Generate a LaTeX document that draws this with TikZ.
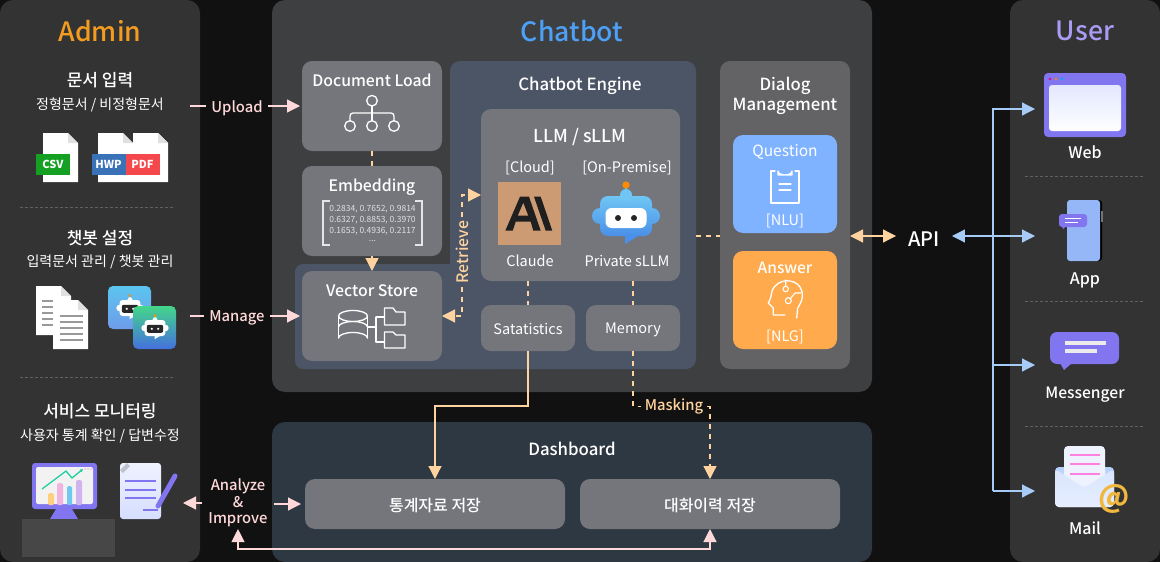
\documentclass[tikz,border=0pt]{standalone}
\usepackage{fontspec}
\setmainfont{Noto Sans CJK KR}
\newfontfamily\medfont{Noto Sans CJK KR Medium}
\newfontfamily\thinfont{Noto Sans CJK KR}
\usetikzlibrary{arrows.meta}

\definecolor{bgblack}{HTML}{111111}
\definecolor{sidegray}{HTML}{333333}
\definecolor{chatgray}{HTML}{3E3F41}
\definecolor{dashblue}{HTML}{2E3842}
\definecolor{engineblue}{HTML}{4C5566}
\definecolor{boxgray}{HTML}{74767C}
\definecolor{dialoggray}{HTML}{636365}
\definecolor{peach}{HTML}{FFD39F}
\definecolor{pinkline}{HTML}{FFD9D9}
\definecolor{blueline}{HTML}{A6CBF7}
\definecolor{purple}{HTML}{8276F0}
\definecolor{admintxt}{HTML}{F39C1F}
\definecolor{chattxtblue}{HTML}{4DA0F5}
\definecolor{usertxt}{HTML}{AA9CF5}
\definecolor{csvgreen}{HTML}{15A024}
\definecolor{hwpblue}{HTML}{3A72B8}
\definecolor{pdfred}{HTML}{F5484D}
\definecolor{nlublue}{HTML}{80B3FF}
\definecolor{nlgorange}{HTML}{FFAB4D}
\definecolor{clay}{HTML}{CC9B73}
\definecolor{goldat}{HTML}{F0B840}
\definecolor{bottop}{HTML}{6FC6F4}
\definecolor{botbottom}{HTML}{4A90E8}
\definecolor{tileatop}{HTML}{5BC5EF}
\definecolor{tileabot}{HTML}{6F9BEA}
\definecolor{tilebtop}{HTML}{44D68A}
\definecolor{tilebbot}{HTML}{4470DE}
\definecolor{barorange}{HTML}{FFCF80}
\definecolor{barpink}{HTML}{F0B4E0}
\definecolor{barblue}{HTML}{70C8F0}
\definecolor{barviolet}{HTML}{D0B4F0}
\definecolor{trendgreen}{HTML}{20D0A0}
\definecolor{papertop}{HTML}{EEF2FF}
\definecolor{paperbot}{HTML}{D6DEFF}
\definecolor{envback}{HTML}{B7D0FB}
\definecolor{envfront}{HTML}{E6EEFF}
\definecolor{mailpink}{HTML}{FF80E0}

\tikzset{
	panel/.style = {fill=#1, rounded corners=13pt, inner sep=0pt, outer sep=0pt},
	box/.style = {fill=#1, rounded corners=10pt, inner sep=0pt, outer sep=0pt},
	lbl/.style = {text=white, inner sep=0pt, yshift=-0.8pt, font=\medfont\fontsize{#1}{#1}\selectfont},
	thinlbl/.style = {text=white, inner sep=0pt, font=\thinfont\fontsize{#1}{#1}\selectfont},
	head/.style = {inner sep=0pt, yshift=-0.8pt, font=\medfont\fontsize{26.6}{27}\selectfont},
	filetag/.style = {fill=#1, minimum width=34pt, minimum height=21pt, inner sep=0pt, text=white, font=\bfseries\fontsize{11}{11}\selectfont},
	tip/.style = {-{Triangle[length=13pt,width=13pt]}},
	twotip/.style = {{Triangle[length=13pt,width=13pt]}-{Triangle[length=13pt,width=13pt]}},
	pinkarrow/.style = {draw=pinkline, line width=1.2pt},
	peachline/.style = {draw=peach, line width=1.2pt},
	peachdash/.style = {draw=peach, line width=1.2pt, dash pattern=on 5pt off 5pt},
	bluearrow/.style = {draw=blueline, line width=1.2pt},
	sep/.style = {draw=white!22!sidegray, line width=0.5pt, dash pattern=on 3pt off 2pt},
	icon/.style = {draw=white, line width=1.3pt, line join=round, line cap=round},
	filepage/.pic = {
		\fill[white] (0,0) -- (25,0) -- (35,10) -- (35,49) -- (0,49) -- cycle;
		\fill[black!12] (25,0) -- (35,10) -- (25,10) -- cycle;
	},
	pics/botblob/.style n args = {7}{code = {
		\draw[cyan!60!white, line width=#7pt] (0,-31) -- (0,-20);
		\shade[top color=#1, bottom color=#2, rounded corners=#5pt] (-26,-20) rectangle (26,20) (-34,-8) rectangle (34,8);
		\fill[#2] (-1,17) -- (-1,28) -- (14,19) -- cycle;
		\fill[#1] (0,-21) circle[radius=6];
		\fill[orange!90!yellow] (0,-31) circle[radius=3.6];
		\fill[#3, rounded corners=#6pt] (-20.5,-8) rectangle (20.5,12);
		\fill[#4] (-8,2) circle[radius=3] (8,2) circle[radius=3];
	}},
}

\begin{document}
\begin{tikzpicture}[x=1pt, y=-1pt]
	\useasboundingbox (0,0) rectangle (1160,562);
	\fill[bgblack] (0,0) rectangle (1160,562);
	% panels
	\node[panel=sidegray, minimum width=200pt, minimum height=562pt] (admin) at (100,281) {};
	\node[panel=sidegray, minimum width=150pt, minimum height=562pt] (user) at (1085,281) {};
	\node[panel=chatgray, minimum width=600pt, minimum height=392pt] (chatbot) at (572,196) {};
	\node[panel=dashblue, minimum width=600pt, minimum height=140pt] (dashboard) at (572,492) {};
	\fill[engineblue, rounded corners=8pt] (295,264) rectangle (500,369);
	\node[box=engineblue, minimum width=246pt, minimum height=308pt] (engine) at (573,215) {};
	\node[box=dialoggray, minimum width=130pt, minimum height=308pt] (dialog) at (785,215) {};
	% titles
	\node[head, text=admintxt] (admintitle) at (100,30) {Admin};
	\node[head, text=chattxtblue] (chattitle) at (572,30) {Chatbot};
	\node[head, text=usertxt] (usertitle) at (1085,30) {User};
	% admin side
	\node[lbl=17] (t1) at (100,79) {문서 입력};
	\node[thinlbl=14] (t2) at (100,104.5) {정형문서 / 비정형문서};
	\node[lbl=17] (t3) at (100,237) {챗봇 설정};
	\node[thinlbl=14] (t4) at (100,262) {입력문서 관리 / 챗봇 관리};
	\node[lbl=17] (t5) at (100,410.5) {서비스 모니터링};
	\node[thinlbl=14] (t6) at (100,435.5) {사용자 통계 확인 / 답변수정};
	\draw[sep] (20,207) -- (175,207);
	\draw[sep] (20,377) -- (175,377);
	\pic at (43,133) {filepage};
	\pic at (98,133) {filepage};
	\pic at (133,133) {filepage};
	\node[filetag=csvgreen] (csv) at (53,164.5) {CSV};
	\node[filetag=hwpblue] (hwp) at (108.5,164.5) {HWP};
	\node[filetag=pdfred] (pdf) at (142.5,164.5) {PDF};
	\pic at (36,286) {filepage};
	\foreach \y in {301,307,313,319,325} \draw[black!40, line width=1.6pt] (42,\y) -- (60,\y);
	\pic at (53,300) {filepage};
	\foreach \y in {316,322,328,334,340} \draw[black!40, line width=1.8pt] (60,\y) -- (83,\y);
	\shade[top color=tileatop, bottom color=tileabot, rounded corners=5pt] (108,286) rectangle (151,329);
	\pic[scale=0.4] at (130,308) {botblob={white}{white}{black!85}{white}{3}{2}{0.8}};
	\shade[top color=tilebtop, bottom color=tilebbot, rounded corners=5pt] (133,306) rectangle (176,349);
	\pic[scale=0.4] at (155,328) {botblob={white}{white}{black!85}{white}{3}{2}{0.8}};
	% monitor
	\fill[purple, rounded corners=3pt] (32,463) rectangle (97,509);
	\fill[black!5, rounded corners=2pt] (36,467) rectangle (93,504);
	\fill[purple] (56,509) -- (72,509) -- (78,519) -- (50,519) -- cycle;
	\fill[barorange, rounded corners=1.5pt] (48,493) rectangle (54,505);
	\fill[barpink, rounded corners=1.5pt] (57,483) rectangle (63,505);
	\fill[barblue, rounded corners=1.5pt] (67,486) rectangle (72,505);
	\fill[barviolet, rounded corners=1.5pt] (76,480) rectangle (82,505);
	\draw[trendgreen, line width=1.3pt, -{Triangle[length=3pt,width=3pt]}] (42,489) -- (66,471) -- (72,478) -- (83,469);
	\fill[barpink] (85,469) circle[radius=0.8] (88,469) circle[radius=0.8] (91,469) circle[radius=0.8];
	\fill[sidegray!90!white] (22,519) rectangle (115,557);
	% edit
	\shade[top color=papertop, bottom color=paperbot, rounded corners=3pt] (120,463) rectangle (161,519);
	\fill[papertop!80!black] (120,470) -- (127,463) -- (130,466) -- (123,473) -- cycle;
	\foreach \y in {481,490,498} \draw[purple, line width=2.6pt] (125,\y) -- (156,\y);
	\draw[purple, line width=2.2pt] (143,510) -- (158,510);
	\draw[purple, line width=5pt, line cap=round] (175,476) -- (158,506);
	% user side
	\draw[sep] (1025,176) -- (1143,176);
	\draw[sep] (1025,301) -- (1143,301);
	\draw[sep] (1025,426) -- (1143,426);
	\fill[purple, rounded corners=4pt] (1044,73) rectangle (1126,137);
	\shade[top color=paperbot!70!white, bottom color=white, rounded corners=3pt] (1049,85) rectangle (1121,131);
	\fill[magenta] (1050,79) circle[radius=1.4];
	\fill[orange] (1056,79) circle[radius=1.4];
	\fill[cyan] (1062,79) circle[radius=1.4];
	\node[lbl=16] (webtxt) at (1085,151.5) {Web};
	\fill[black, rounded corners=3pt] (1070,200) rectangle (1102,261);
	\fill[black!55] (1101,211) rectangle (1102.5,222);
	\fill[blueline!90!blue, rounded corners=3pt] (1067,200) rectangle (1100,261);
	\fill[purple, rounded corners=3pt] (1059,214) rectangle (1087,227);
	\fill[purple] (1062,226) -- (1066,226) -- (1063,229) -- cycle;
	\draw[white, line width=0.8pt] (1065,218) -- (1081,218) (1065,222) -- (1078,222);
	\node[lbl=16] (apptxt) at (1085,280) {App};
	\fill[purple, rounded corners=7pt] (1050,332) rectangle (1119,364);
	\fill[purple] (1060,363) -- (1072,363) -- (1064,370) -- cycle;
	\fill[white!92!black] (1065,341) rectangle (1106,345);
	\fill[white!92!black] (1065,349) rectangle (1097,353);
	\node[lbl=15.6] (msgtxt) at (1085,394) {Messenger};
	\shade[top color=envback, bottom color=envfront, rounded corners=4pt] (1055,467) rectangle (1114,507);
	\fill[papertop, rounded corners=4pt] (1064,446) rectangle (1105,488);
	\foreach \y in {455,464,474} \draw[mailpink, line width=1.4pt] (1070,\y) -- (1100,\y);
	\shade[top color=envfront!70!envback, bottom color=envfront, rounded corners=4pt] (1055,469) -- (1084,488) -- (1114,469) -- (1114,507) -- (1055,507) -- cycle;
	\node[inner sep=0pt, text=goldat, font=\bfseries\fontsize{30}{30}\selectfont] (attxt) at (1114,499) {@};
	\node[lbl=16] (mailtxt) at (1085,527) {Mail};
	% chatbot boxes
	\node[box=boxgray, minimum width=140pt, minimum height=90pt] (docload) at (372,106) {};
	\node[box=boxgray, minimum width=140pt, minimum height=90pt] (embed) at (372,211) {};
	\node[box=boxgray, minimum width=140pt, minimum height=90pt] (vecstore) at (372,316) {};
	\node[box=boxgray, minimum width=199pt, minimum height=172pt] (llm) at (580.5,195) {};
	\node[box=boxgray, minimum width=94pt, minimum height=46pt] (stats) at (528,328) {};
	\node[box=boxgray, minimum width=94pt, minimum height=46pt] (memory) at (633,328) {};
	\node[box=nlublue, minimum width=104pt, minimum height=98pt] (question) at (785,184) {};
	\node[box=nlgorange, minimum width=104pt, minimum height=98pt] (answer) at (785,300) {};
	\node[box=boxgray, minimum width=260pt, minimum height=50pt] (statstore) at (435,504) {};
	\node[box=boxgray, minimum width=260pt, minimum height=50pt] (chatstore) at (710,504) {};
	\node[lbl=15.8] (doctxt) at (372,80) {Document Load};
	\node[lbl=15.8] (embtxt) at (372,186) {Embedding};
	\node[lbl=15.8] (vectxt) at (372,290) {Vector Store};
	\node[lbl=16.8] (enginetxt) at (580,85) {Chatbot Engine};
	\node[lbl=17.8] (llmtxt) at (580,136) {LLM / sLLM};
	\node[thinlbl=14.5] (cloudtxt) at (530,168) {[Cloud]};
	\node[thinlbl=14.5] (premtxt) at (627,168) {[On-Premise]};
	\node[thinlbl=14.5] (claudetxt) at (530,261) {Claude};
	\node[thinlbl=14.5] (privtxt) at (627,261) {Private sLLM};
	\node[thinlbl=14.5] (statstxt) at (528,328.5) {Satatistics};
	\node[thinlbl=14.5] (memtxt) at (633,330) {Memory};
	\node[lbl=16, align=center, font=\medfont\fontsize{16.7}{20}\selectfont] (dialogtxt) at (785,95) {Dialog\\Management};
	\node[thinlbl=15.5] (qtxt) at (785,152) {Question};
	\node[thinlbl=14.5] (nlutxt) at (785,221) {[NLU]};
	\node[lbl=15.5] (atxt) at (785,267) {Answer};
	\node[thinlbl=14.5] (nlgtxt) at (785,337) {[NLG]};
	\node[lbl=16.8] (dashtxt) at (572,448.5) {Dashboard};
	\node[lbl=16] (stattxt) at (435,505) {통계자료 저장};
	\node[lbl=16] (chattxt) at (710,505) {대화이력 저장};
	% document load icon
	\draw[icon] (372,100.7) circle[radius=5.3] (350,126) circle[radius=5.3] (372,126) circle[radius=5.3] (394,126) circle[radius=5.3];
	\draw[icon] (372,106) -- (372,120.7);
	\draw[icon, rounded corners=3pt] (350,120.7) -- (350,113) -- (394,113) -- (394,120.7);
	% embedding matrix
	\draw[white!90!black, line width=1.1pt] (330,201) -- (323,201) -- (323,245) -- (330,245);
	\draw[white!90!black, line width=1.1pt] (415,201) -- (422,201) -- (422,245) -- (415,245);
	\node[thinlbl=8.5, text=white!88!black] (row1) at (372.5,209) {0.2834, 0.7652, 0.9814};
	\node[thinlbl=8.5, text=white!88!black] (row2) at (372.5,220.5) {0.6327, 0.8853, 0.3970};
	\node[thinlbl=8.5, text=white!88!black] (row3) at (372.5,231.5) {0.1653, 0.4936, 0.2117};
	\node[thinlbl=8.5, text=white!88!black] (row4) at (372.5,241) {...};
	% vector store icon
	\draw[icon] (353,316) ellipse[x radius=14.5, y radius=5.5];
	\draw[icon] (338.5,316) -- (338.5,338) (367.5,316) -- (367.5,338);
	\draw[icon] (338.5,327) arc[start angle=180, end angle=360, x radius=14.5, y radius=5.5];
	\draw[icon] (338.5,338) arc[start angle=180, end angle=360, x radius=14.5, y radius=5.5];
	\draw[icon] (368,327) -- (376,327) (376,317) -- (376,342) (376,317) -- (384,317) (376,342) -- (384,342);
	\draw[icon] (384.5,308) -- (393,308) -- (396,312) -- (405,312) -- (405,325) -- (384.5,325) -- cycle;
	\draw[icon] (384.5,332) -- (393,332) -- (396,335) -- (405,335) -- (405,348) -- (384.5,348) -- cycle;
	% claude logo
	\node[fill=clay, minimum size=63pt, inner sep=0pt] (claudelogo) at (529.5,213.5) {};
	\fill[black!88, even odd rule] (520,196.7) -- (529,196.7) -- (540.7,230.7) -- (533.3,230.7) -- (530.7,221.7) -- (515.7,221.7) -- (512.7,230.7) -- (505.3,230.7) -- cycle
		(517.7,215.7) -- (528.3,215.7) -- (523.3,202.7) -- cycle;
	\fill[black!88] (534,196.7) -- (540.7,196.7) -- (552.3,230.7) -- (545.7,230.7) -- cycle;
	% big robot
	\pic at (626,216) {botblob={bottop}{botbottom}{white}{black!85}{8}{6}{1.6}};
	% question icon
	\draw[icon] (775,171) -- (771,171) -- (771,203) -- (799,203) -- (799,171) -- (795,171);
	\draw[icon] (778,175) -- (778,171) arc[start angle=180, end angle=0, x radius=7, y radius=4] -- (792,175) -- cycle;
	\draw[icon] (779,184) -- (791,184) (779,190) -- (791,190);
	% answer icon
	\draw[icon] (796.7,318) -- (797.7,308) .. controls (803,300) and (804,293) .. (800,287) .. controls (795,279) and (778,277) .. (772,291) .. controls (771,296) and (771,298) .. (768.3,303) -- (773.3,308) -- (773.3,315) -- (785,315);
	\draw[icon, line width=1.1pt] (785.7,289) circle[radius=2.7] (788.3,300.7) circle[radius=3];
	\draw[icon, line width=1.1pt] (785.7,280) -- (785.7,286.3) (790.5,298.5) -- (795,293) -- (801,293);
	% free ends
	\coordinate (uploadout) at (190,106);
	\coordinate (manageout) at (190,316);
	\coordinate (analyzeout) at (183,503);
	\coordinate (busup) at (993,109);
	\coordinate (busdown) at (993,491);
	\coordinate (webin) at (1035,109);
	\coordinate (appin) at (1035,236);
	\coordinate (msgin) at (1035,365);
	\coordinate (mailin) at (1035,491);
	\coordinate (reviewbus) at (238,549);
	\coordinate (statsbend) at (528,406);
	% labels on connectors
	\node[lbl=14.8, text=pinkline, inner xsep=5pt] (upload) at (237,107) {Upload};
	\node[lbl=14.8, text=pinkline, inner xsep=5pt] (manage) at (237,317.5) {Manage};
	\node[lbl=14.8, text=pinkline, align=center, font=\medfont\fontsize{14.8}{16.5}\selectfont, inner xsep=6pt, inner ysep=2pt] (analyze) at (238,502) {Analyze\\\&\\Improve};
	\node[thinlbl=16, text=peach, font=\medfont\fontsize{15.8}{16}\selectfont, rotate=90, inner xsep=3pt] (retrieve) at (462,252) {Retrieve};
	\node[lbl=14.8, text=peach, inner xsep=4pt] (masking) at (674,405.5) {Masking};
	\node[lbl=20, inner xsep=12pt] (api) at (924,238) {API};
	% connectors
	\draw[pinkarrow] (uploadout) -- (upload.west |- uploadout);
	\draw[pinkarrow, tip, shorten >=2pt] (upload.east |- docload) -- (docload);
	\draw[pinkarrow] (manageout) -- (manage.west |- manageout);
	\draw[pinkarrow, tip, shorten >=2pt] (manage.east |- vecstore) -- (vecstore);
	\draw[pinkarrow, tip] (analyze.west |- analyzeout) -- (analyzeout);
	\draw[pinkarrow, tip, shorten >=4pt] (analyze.east |- statstore.west) -- (statstore.west);
	\draw[pinkarrow, twotip] (analyze.south) -- (reviewbus) -| (chatstore.south);
	\draw[peachdash] (docload) -- (embed);
	\draw[peachline, dash pattern=on 5pt off 5pt, tip] (embed) -- (vecstore);
	\draw[peachdash, tip] (retrieve.east) |- (llm.west);
	\draw[peachdash, tip] (retrieve.west) |- (vecstore.east);
	\draw[peachdash] (llm.south -| stats) -- (stats);
	\draw[peachdash] (llm.south -| memory) -- (memory);
	\draw[peachline, tip] (stats.south) |- (statsbend -| statstore) -- (statstore.north);
	\draw[peachdash] (memory.south) |- (masking.west);
	\draw[peachdash, tip] (masking.east) -| (chatstore.north);
	\draw[peachdash] (engine.east |- appin) -- (dialog.west |- appin);
	\draw[peachline, twotip] (dialog.east |- appin) -- (api.west |- appin);
	\draw[bluearrow, twotip] (api.east |- appin) -- (appin);
	\draw[bluearrow, tip] (busdown) -- (busup) -- (webin);
	\draw[bluearrow, tip] (busup |- msgin) -- (msgin);
	\draw[bluearrow, tip] (busdown) -- (mailin);
\end{tikzpicture}
\end{document}
